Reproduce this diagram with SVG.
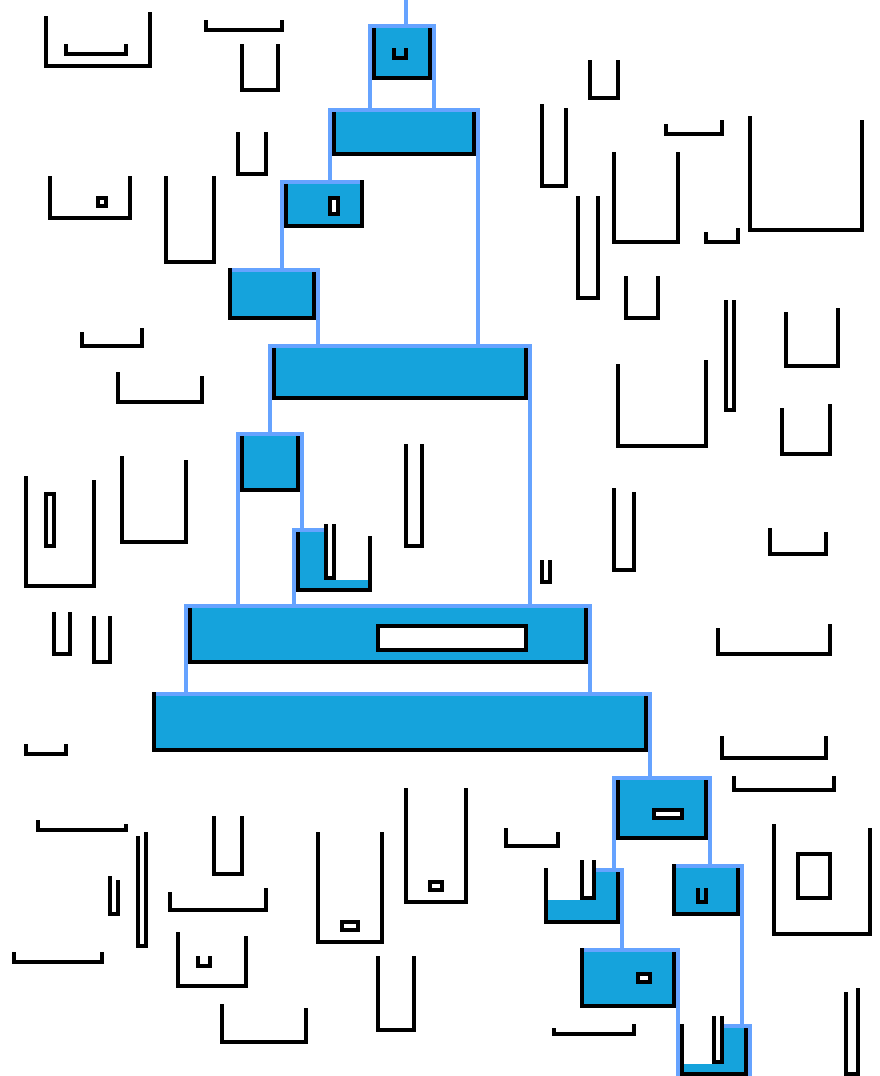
<svg xmlns="http://www.w3.org/2000/svg" width="880" height="1076" viewBox="0 0 880 1076" shape-rendering="crispEdges">
<style>
.u{fill:none;stroke:#000;stroke-width:4;stroke-linejoin:miter;stroke-linecap:butt}
.c{fill:none;stroke:#66A3FF;stroke-width:4;stroke-linejoin:miter;stroke-linecap:butt}
.w{fill:#15A3DC;stroke:none}
.b{fill:#fff;stroke:#000;stroke-width:4}
</style>
<rect width="880" height="1076" fill="#fff"/>
<g id="containers">
<path class="u" d="M46,16 V66 H150 V12"/>
<path class="u" d="M66,44 V54 H126 V44"/>
<path class="u" d="M206,20 V30 H282 V20"/>
<path class="u" d="M242,44 V90 H278 V44"/>
<path class="u" d="M238,132 V174 H266 V132"/>
<path class="u" d="M50,176 V218 H130 V176"/>
<rect class="b" x="98" y="198" width="8" height="8"/>
<path class="u" d="M166,176 V262 H214 V176"/>
<path class="u" d="M590,60 V98 H618 V60"/>
<path class="u" d="M542,104 V186 H566 V108"/>
<path class="u" d="M666,124 V134 H722 V120"/>
<path class="u" d="M750,116 V230 H862 V120"/>
<path class="u" d="M614,152 V242 H678 V152"/>
<path class="u" d="M578,196 V298 H598 V196"/>
<path class="u" d="M706,232 V242 H738 V228"/>
<path class="u" d="M626,276 V318 H658 V276"/>
<path class="u" d="M726,300 V410 H734 V300"/>
<path class="u" d="M786,312 V366 H838 V308"/>
<path class="u" d="M618,364 V446 H706 V360"/>
<path class="u" d="M782,408 V454 H830 V404"/>
<path class="u" d="M614,488 V570 H634 V492"/>
<path class="u" d="M770,528 V554 H826 V532"/>
<path class="u" d="M542,560 V582 H550 V560"/>
<path class="u" d="M82,332 V346 H142 V328"/>
<path class="u" d="M118,372 V402 H202 V376"/>
<path class="u" d="M122,456 V542 H186 V460"/>
<path class="u" d="M26,476 V586 H94 V480"/>
<rect class="b" x="46" y="494" width="8" height="52"/>
<path class="u" d="M406,444 V546 H422 V444"/>
<path class="u" d="M718,628 V654 H830 V624"/>
<path class="u" d="M722,736 V758 H826 V736"/>
<path class="u" d="M734,776 V790 H834 V776"/>
<path class="u" d="M506,828 V846 H558 V832"/>
<path class="u" d="M774,824 V934 H870 V828"/>
<rect class="b" x="798" y="854" width="32" height="44"/>
<path class="u" d="M554,1028 V1034 H634 V1024"/>
<path class="u" d="M846,992 V1074 H858 V988"/>
<path class="u" d="M26,744 V754 H66 V744"/>
<path class="u" d="M38,820 V830 H126 V824"/>
<path class="u" d="M138,836 V946 H146 V832"/>
<path class="u" d="M110,876 V914 H118 V880"/>
<path class="u" d="M214,816 V874 H242 V816"/>
<path class="u" d="M170,892 V910 H266 V888"/>
<path class="u" d="M178,932 V986 H246 V936"/>
<path class="u" d="M198,956 V966 H210 V956"/>
<path class="u" d="M14,952 V962 H102 V952"/>
<path class="u" d="M222,1004 V1042 H306 V1008"/>
<path class="u" d="M318,832 V942 H382 V832"/>
<rect class="b" x="342" y="922" width="16" height="8"/>
<path class="u" d="M406,788 V902 H466 V788"/>
<rect class="b" x="430" y="882" width="12" height="8"/>
<path class="u" d="M378,956 V1030 H414 V956"/>
<path class="u" d="M54,612 V654 H70 V612"/>
<path class="u" d="M94,616 V662 H110 V616"/>
</g>
<g id="connectors">
<path class="c" d="M406,0 V24"/>
<path class="c" d="M370,108 V26 H434 V108"/>
<path class="c" d="M330,180 V110 H478 V344"/>
<path class="c" d="M282,268 V182 H360"/>
<path class="c" d="M232,270 H318 V344"/>
<path class="c" d="M270,432 V346 H530 V604"/>
<path class="c" d="M238,604 V434 H302 V528"/>
<path class="c" d="M294,604 V530 H324"/>
<path class="c" d="M186,692 V606 H590 V692"/>
<path class="c" d="M156,694 H650 V776"/>
<path class="c" d="M614,868 V778 H710 V864"/>
<path class="c" d="M596,870 H622 V948"/>
<path class="c" d="M676,866 H742 V1024"/>
<path class="c" d="M584,950 H678 V1076"/>
<path class="c" d="M724,1026 H750 V1076"/>
</g>
<g id="node1">
<rect class="w" x="376" y="28" width="52" height="48"/>
<path class="u" d="M374,28 V78 H430 V28"/>
<path class="u" d="M394,48 V58 H406 V48"/>
</g>
<g id="node2">
<rect class="w" x="336" y="112" width="136" height="40"/>
<path class="u" d="M334,112 V154 H474 V112"/>
</g>
<g id="node3">
<rect class="w" x="288" y="184" width="72" height="40"/>
<path class="u" d="M286,184 V226 H362 V180"/>
<rect class="b" x="330" y="198" width="8" height="16"/>
</g>
<g id="node4">
<rect class="w" x="232" y="272" width="80" height="44"/>
<path class="u" d="M230,268 V318 H314 V272"/>
</g>
<g id="node5">
<rect class="w" x="276" y="348" width="248" height="48"/>
<path class="u" d="M274,348 V398 H526 V348"/>
</g>
<g id="node6">
<rect class="w" x="244" y="436" width="52" height="52"/>
<path class="u" d="M242,436 V490 H298 V436"/>
</g>
<g id="node7">
<rect class="w" x="300" y="532" width="24" height="56"/>
<rect class="w" x="300" y="580" width="68" height="8"/>
<path class="u" d="M298,532 V590 H370 V536"/>
<path class="u" d="M326,524 V578 H334 V524"/>
</g>
<g id="node8">
<rect class="w" x="192" y="608" width="392" height="52"/>
<path class="u" d="M190,608 V662 H586 V608"/>
<rect class="b" x="378" y="626" width="148" height="24"/>
</g>
<g id="node9">
<rect class="w" x="156" y="696" width="488" height="52"/>
<path class="u" d="M154,692 V750 H646 V696"/>
</g>
<g id="node10">
<rect class="w" x="620" y="780" width="84" height="56"/>
<path class="u" d="M618,780 V838 H706 V780"/>
<rect class="b" x="654" y="810" width="28" height="8"/>
</g>
<g id="node11">
<rect class="w" x="596" y="872" width="20" height="28"/>
<rect class="w" x="548" y="900" width="68" height="20"/>
<path class="u" d="M546,868 V922 H618 V872"/>
<path class="u" d="M582,860 V898 H594 V860"/>
</g>
<g id="node12">
<rect class="w" x="676" y="868" width="60" height="44"/>
<path class="u" d="M674,864 V914 H738 V868"/>
<path class="u" d="M698,888 V902 H706 V888"/>
</g>
<g id="node13">
<rect class="w" x="584" y="952" width="88" height="52"/>
<path class="u" d="M582,948 V1006 H674 V952"/>
<rect class="b" x="638" y="974" width="12" height="8"/>
</g>
<g id="node14">
<rect class="w" x="724" y="1028" width="20" height="36"/>
<rect class="w" x="684" y="1064" width="60" height="8"/>
<path class="u" d="M682,1024 V1074 H746 V1028"/>
<path class="u" d="M714,1016 V1062 H722 V1016"/>
</g>
</svg>
